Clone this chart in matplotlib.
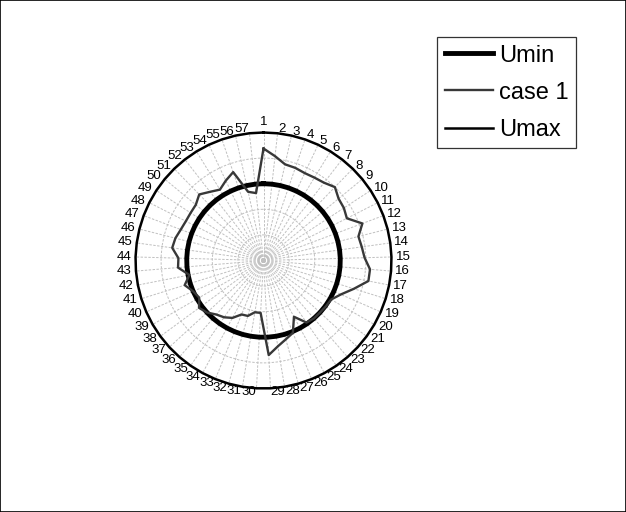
import numpy as np
import matplotlib
matplotlib.use("Agg")
import matplotlib.pyplot as plt
from matplotlib.patches import Rectangle

plt.rcParams['font.family'] = ['Liberation Sans', 'DejaVu Sans']

categories = [str(i) for i in range(1, 58)]
case1 = [0.875, 0.82, 0.77, 0.765, 0.755, 0.76, 0.77, 0.80, 0.76, 0.75,
         0.73, 0.825, 0.765, 0.775, 0.79, 0.835, 0.835, 0.74, 0.66, 0.61,
         0.605, 0.60, 0.60, 0.59, 0.50, 0.61, 0.64, 0.68, 0.74, 0.41,
         0.41, 0.45, 0.455, 0.51, 0.54, 0.56, 0.60, 0.625, 0.58, 0.60,
         0.645, 0.59, 0.67, 0.665, 0.72, 0.71, 0.69, 0.68, 0.68, 0.685,
         0.72, 0.68, 0.65, 0.69, 0.73, 0.55, 0.53]
umin = [0.6] * 57
umax = [1.0] * 57
radial_ticks = [0.2, 0.4, 0.6, 0.8, 1.0]

W, H = 626, 512
fig = plt.figure(figsize=(W / 100, H / 100), dpi=100)
fig.patches.append(Rectangle((0, 0), 1, 1, transform=fig.transFigure,
                             fill=False, edgecolor='black', linewidth=1.2))

cx, cy, R = 263.5, 260.5, 128
ax = fig.add_axes([(cx - R) / W, (H - cy - R) / H, 2 * R / W, 2 * R / H],
                  projection='polar')
ax.set_theta_offset(np.pi / 2)
ax.set_theta_direction(-1)

n = len(categories)
angles = np.arange(n) * 2 * np.pi / n
ang_c = np.concatenate([angles, angles[:1]])

def closed(v):
    return np.concatenate([v, v[:1]])

ax.set_ylim(0, 1.0)
ax.set_xticks(angles)
ax.set_xticklabels([])
ax.set_yticks(radial_ticks)
ax.set_yticklabels([])
ax.grid(True, color='#c0c0c0', linestyle=(0, (2.5, 1.5)), linewidth=0.7)
ax.spines['polar'].set_visible(False)
ax.tick_params(axis='both', length=0)

l_umin, = ax.plot(ang_c, closed(umin), color='black', linewidth=3.5,
                  label='Umin', zorder=3)
l_case, = ax.plot(ang_c, closed(case1), color='#383838', linewidth=1.7,
                  label='case 1', zorder=4)
l_umax, = ax.plot(ang_c, closed(umax), color='black', linewidth=1.8,
                  label='Umax', zorder=3, clip_on=False)

pad = 3.0
for a, lab in zip(angles, categories):
    s, c = np.sin(a), np.cos(a)
    if s > 0.02:
        ha = 'left'
    elif s < -0.02:
        ha = 'right'
    else:
        ha = 'center'
    if abs(s) <= 0.02:
        va = 'bottom' if c > 0 else 'top'
    else:
        va = 'center'
    ax.annotate(lab, xy=(a, 1.0), xytext=(s * pad, c * pad),
                textcoords='offset points', ha=ha, va=va, fontsize=9.5,
                annotation_clip=False)

leg = fig.legend(handles=[l_umin, l_case, l_umax],
                 loc='upper left', bbox_to_anchor=(437 / W, 1 - 37 / H),
                 fontsize=17, frameon=True, fancybox=False, edgecolor='black',
                 handlelength=2.05, handletextpad=0.25, labelspacing=0.64,
                 borderpad=0.32, borderaxespad=0)
leg.get_frame().set_linewidth(0.9)

fig.savefig('out.png', dpi=100)
